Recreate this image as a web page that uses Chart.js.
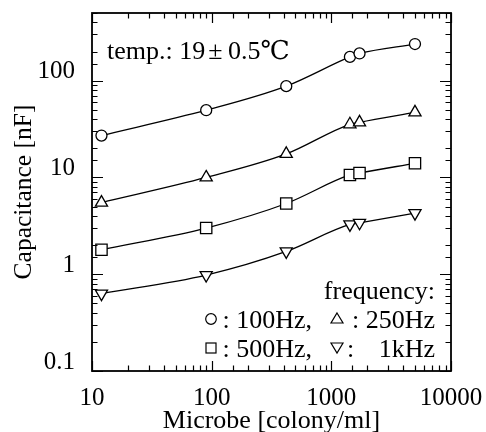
<!DOCTYPE html>
<html>
<head>
<meta charset="utf-8">
<script src="https://cdn.jsdelivr.net/npm/chart.js@4.4.1/dist/chart.umd.min.js"></script>
<style>
html,body{margin:0;padding:0;background:#fff;}
canvas{display:block;}
</style>
</head>
<body>
<canvas id="c" width="486" height="432"></canvas>
<script>
// ---- data ----
const microbe = [12, 90, 420, 1430, 1720, 5000];
const cap100Hz = [27.1, 49.5, 87.7, 176, 191, 239];
const cap250Hz = [5.5, 10.0, 17.5, 35.4, 37.1, 47];
const cap500Hz = [1.79, 3.0, 5.38, 10.6, 11.1, 14.0];
const cap1kHz = [0.63, 0.98, 1.72, 3.27, 3.40, 4.28];
const seriesNames = ['100Hz', '250Hz', '500Hz', '1kHz'];
const xTickLabels = ['10', '100', '1000', '10000'];
const yTickLabels = ['0.1', '1', '10', '100'];
const xTitle = 'Microbe [colony/ml]';
const yTitle = 'Capacitance [nF]';
const noteParts = ['temp.: 19', '\u00B1', '0.5\u2103'];
const legendTitle = 'frequency:';

const SERIF = '"Liberation Serif", "DejaVu Serif", "Times New Roman", serif';

function isDecade(v) {
  const l = Math.log10(v);
  return Math.abs(l - Math.round(l)) < 1e-9;
}
function labelFor(v, list) {
  if (!isDecade(v)) return '';
  const s = String(+v.toPrecision(6));
  return list.includes(s) ? s : '';
}
function pts(ys) { return microbe.map((x, i) => ({x: x, y: ys[i]})); }

const mk = (label, ys, style, radius, rot) => ({
  label: label,
  data: pts(ys),
  borderColor: '#000',
  borderWidth: 1.3,
  backgroundColor: '#fff',
  pointStyle: style,
  pointRadius: radius,
  pointRotation: rot,
  pointBackgroundColor: '#fff',
  pointBorderColor: '#000',
  pointBorderWidth: 1.3,
  cubicInterpolationMode: 'monotone',
  fill: false
});

const framePlugin = {
  id: 'framePlugin',
  afterDraw(chart) {
    const ctx = chart.ctx;
    const {left, right, top, bottom} = chart.chartArea;
    const xs = chart.scales.x, ys = chart.scales.y;
    ctx.save();
    ctx.strokeStyle = '#000';
    ctx.lineWidth = 1.2;
    ctx.beginPath();
    xs.ticks.forEach(t => {
      const p = Math.round(xs.getPixelForValue(t.value)) + 0.5;
      if (p < left - 1 || p > right + 1) return;
      const L = isDecade(t.value) ? 10 : 5.5;
      ctx.moveTo(p, bottom); ctx.lineTo(p, bottom - L);
      ctx.moveTo(p, top); ctx.lineTo(p, top + L);
    });
    ys.ticks.forEach(t => {
      const p = Math.round(ys.getPixelForValue(t.value)) + 0.5;
      if (p < top - 1 || p > bottom + 1) return;
      const L = isDecade(t.value) ? 11 : 5.5;
      ctx.moveTo(left, p); ctx.lineTo(left + L, p);
      ctx.moveTo(right, p); ctx.lineTo(right - L, p);
    });
    ctx.stroke();
    ctx.lineWidth = 1.8;
    ctx.strokeRect(left, top, right - left, bottom - top);

    // annotation text
    ctx.fillStyle = '#000';
    ctx.font = '26px ' + SERIF;
    ctx.textBaseline = 'alphabetic';
    ctx.textAlign = 'left';
    const nb = top + 46;
    ctx.fillText(noteParts[0], left + 15, nb);
    ctx.textAlign = 'center';
    ctx.fillText(noteParts[1], left + 123.5, nb);
    ctx.textAlign = 'left';
    ctx.fillText(noteParts[2], left + 136, nb);

    // legend
    const rx = right - 16;
    ctx.textAlign = 'right';
    ctx.fillText(legendTitle, rx, top + 286);
    const b2 = top + 315, b3 = top + 344;
    const c1 = left + 119, c2 = left + 245;
    ctx.fillText(': ' + seriesNames[1], rx, b2);
    ctx.fillText(': ' + seriesNames[0] + ',', c1 + 101, b2);
    ctx.fillText(': ' + seriesNames[2] + ',', c1 + 101, b3);
    ctx.fillText(seriesNames[3], rx, b3);
    ctx.textAlign = 'left';
    ctx.fillText(':', c2 + 10, b3);

    ctx.lineWidth = 1.2;
    // circle
    ctx.beginPath(); ctx.arc(c1, b2 - 9, 5.3, 0, Math.PI * 2); ctx.stroke();
    // triangle up
    ctx.beginPath();
    ctx.moveTo(c2, b2 - 15); ctx.lineTo(c2 + 6, b2 - 5); ctx.lineTo(c2 - 6, b2 - 5); ctx.closePath(); ctx.stroke();
    // square
    ctx.strokeRect(c1 - 5, b3 - 14, 10, 10);
    // triangle down
    ctx.beginPath();
    ctx.moveTo(c2 - 6, b3 - 14); ctx.lineTo(c2 + 6, b3 - 14); ctx.lineTo(c2, b3 - 4); ctx.closePath(); ctx.stroke();
    ctx.restore();
  }
};

new Chart(document.getElementById('c'), {
  type: 'line',
  data: {
    datasets: [
      mk(seriesNames[0], cap100Hz, 'circle', 5.5, 0),
      mk(seriesNames[1], cap250Hz, 'triangle', 7, 0),
      mk(seriesNames[2], cap500Hz, 'rect', 8, 0),
      mk(seriesNames[3], cap1kHz, 'triangle', 7, 180)
    ]
  },
  options: {
    responsive: false,
    animation: false,
    devicePixelRatio: 1,
    layout: {padding: {top: 13, right: 35, left: 0, bottom: 0}},
    plugins: {legend: {display: false}, tooltip: {enabled: false}},
    scales: {
      x: {
        type: 'logarithmic',
        min: 10, max: 10000,
        grid: {display: false},
        border: {display: false},
        ticks: {
          autoSkip: false, maxRotation: 0, minRotation: 0,
          color: '#000', padding: 4,
          font: {family: SERIF, size: 25},
          callback: (v) => labelFor(v, xTickLabels)
        },
        title: {display: true, text: xTitle, color: '#000',
          font: {family: SERIF, size: 26}, padding: {top: 0, bottom: -5}},
        afterFit: (s) => { s.height = 61; s.paddingLeft = 0; s.paddingRight = 0; }
      },
      y: {
        type: 'logarithmic',
        min: 0.1, max: 500,
        grid: {display: false},
        border: {display: false},
        ticks: {
          autoSkip: false,
          color: '#000', padding: 9, labelOffset: -9,
          font: {family: SERIF, size: 25},
          callback: (v) => labelFor(v, yTickLabels)
        },
        title: {display: true, text: yTitle, color: '#000',
          font: {family: SERIF, size: 25.5}, padding: {top: 9, bottom: 0}},
        afterFit: (s) => { s.width = 92; s.paddingTop = 0; s.paddingBottom = 0; }
      }
    }
  },
  plugins: [framePlugin]
});
</script>
</body>
</html>
